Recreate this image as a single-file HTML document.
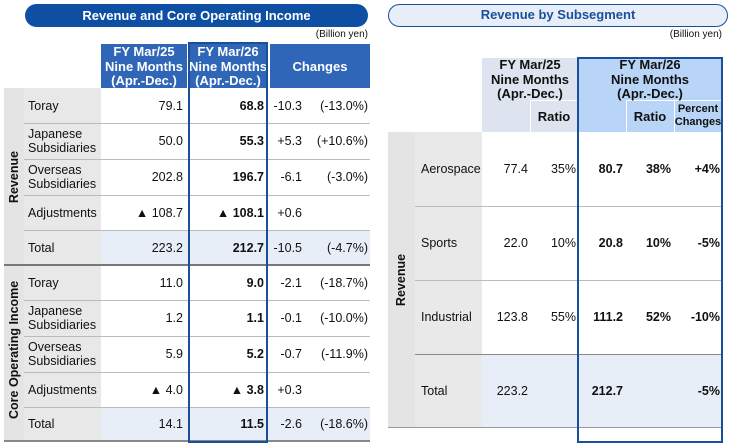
<!DOCTYPE html>
<html><head><meta charset="utf-8">
<style>
*{margin:0;padding:0;box-sizing:border-box}
body{width:730px;height:443px;overflow:hidden;background:#fff;font-family:"Liberation Sans",Arial,sans-serif;color:#111;position:relative}
.a{position:absolute}
.t{position:absolute;font-size:12.5px;line-height:14px;white-space:nowrap}
.h{font-size:13px;line-height:14.5px}
.b{font-weight:bold}
.r{text-align:right}
.c{text-align:center}
</style></head><body>
<!-- LEFT PANEL -->
<div class="a" style="left:25px;top:4px;width:343px;height:23px;background:#0f4fa3;border-radius:12px;color:#fff;font-weight:bold;font-size:13px;line-height:23px;text-align:center">Revenue and Core Operating Income</div>
<div class="t" style="left:300px;top:28px;width:68px;font-size:10px;text-align:right">(Billion yen)</div>
<div class="a" style="left:101px;top:44px;width:86px;height:44px;background:#2f66b8"></div>
<div class="a" style="left:188px;top:42px;width:80px;height:46px;background:#2f66b8"></div>
<div class="a" style="left:270px;top:44px;width:100px;height:44px;background:#2f66b8"></div>
<div class="t h b c" style="left:99px;top:45px;width:90px;color:#fff">FY Mar/25<br>Nine Months<br>(Apr.-Dec.)</div>
<div class="t h b c" style="left:186px;top:45px;width:84px;color:#fff">FY Mar/26<br>Nine Months<br>(Apr.-Dec.)</div>
<div class="t h b c" style="left:270px;top:60px;width:100px;color:#fff">Changes</div>
<div class="a" style="left:4px;top:88px;width:20px;height:354px;background:#e4e4e4"></div>
<div class="a" style="left:24px;top:88px;width:77px;height:354px;background:#e8e8e8"></div>
<div class="a" style="left:101px;top:230px;width:269px;height:35px;background:#e8eef7"></div>
<div class="a" style="left:101px;top:407px;width:269px;height:35px;background:#e8eef7"></div>
<div class="t b" style="left:-31px;top:170px;width:90px;text-align:center;transform:rotate(-90deg)">Revenue</div>
<div class="t b" style="left:-51px;top:347px;width:130px;text-align:center;transform:rotate(-90deg)">Core Operating Income</div>
<div id="left"></div>
<div class="a" style="left:4px;top:264px;width:366px;height:2px;background:#777"></div>
<div class="a" style="left:4px;top:440px;width:366px;height:2px;background:#888"></div>
<div class="a" style="left:188px;top:42px;width:80px;height:401px;border:2px solid #1a4f9c"></div>

<!-- RIGHT PANEL -->
<div class="a" style="left:388px;top:4px;width:340px;height:23px;background:#e8eef8;border:1.5px solid #1a4f9c;border-radius:12px;color:#1a4f9c;font-weight:bold;font-size:13px;line-height:20px;text-align:center">Revenue by Subsegment</div>
<div class="t" style="left:654px;top:28px;width:68px;font-size:10px;text-align:right">(Billion yen)</div>
<div class="a" style="left:482px;top:58px;width:96px;height:74px;background:#dde4ef"></div>
<div class="a" style="left:578px;top:57px;width:144px;height:75px;background:#b8d4f6"></div>
<div class="a" style="left:530px;top:100px;width:1px;height:32px;background:#fff"></div>
<div class="a" style="left:530px;top:100px;width:48px;height:1px;background:#fff"></div>
<div class="a" style="left:626px;top:100px;width:96px;height:1px;background:#fff"></div>
<div class="a" style="left:626px;top:100px;width:1px;height:32px;background:#fff"></div>
<div class="a" style="left:674px;top:100px;width:1px;height:32px;background:#fff"></div>
<div class="t h b c" style="left:482px;top:58px;width:96px">FY Mar/25<br>Nine Months<br>(Apr.-Dec.)</div>
<div class="t h b c" style="left:578px;top:58px;width:144px">FY Mar/26<br>Nine Months<br>(Apr.-Dec.)</div>
<div class="t h b c" style="left:530px;top:110px;width:48px">Ratio</div>
<div class="t h b c" style="left:626px;top:110px;width:48px">Ratio</div>
<div class="t b c" style="left:673px;top:103px;width:50px;font-size:11px;line-height:13px">Percent<br>Changes</div>
<div class="a" style="left:388px;top:132px;width:27px;height:296px;background:#e4e4e4"></div>
<div class="a" style="left:415px;top:132px;width:67px;height:296px;background:#e9e9e9"></div>
<div class="a" style="left:482px;top:354px;width:240px;height:74px;background:#e8eef7"></div>
<div class="t b" style="left:356px;top:273px;width:90px;text-align:center;transform:rotate(-90deg)">Revenue</div>
<div id="right"></div>
<div class="a" style="left:388px;top:427px;width:334px;height:1px;background:#999"></div>
<div class="a" style="left:577px;top:57px;width:146px;height:386px;border:2px solid #1a4f9c"></div>

<script>
const leftLabels=["Toray","Japanese<br>Subsidiaries","Overseas<br>Subsidiaries","Adjustments","Total","Toray","Japanese<br>Subsidiaries","Overseas<br>Subsidiaries","Adjustments","Total"];
const leftFy25=["79.1","50.0","202.8","▲ 108.7","223.2","11.0","1.2","5.9","▲ 4.0","14.1"];
const leftFy26=["68.8","55.3","196.7","▲ 108.1","212.7","9.0","1.1","5.2","▲ 3.8","11.5"];
const leftChg=["-10.3","+5.3","-6.1","+0.6","-10.5","-2.1","-0.1","-0.7","+0.3","-2.6"];
const leftPct=["(-13.0%)","(+10.6%)","(-3.0%)","","(-4.7%)","(-18.7%)","(-10.0%)","(-11.9%)","","(-18.6%)"];
const leftTops=[88,123,159,195,230,265,300,336,372,407,441];

const rightLabels=["Aerospace","Sports","Industrial","Total"];
const rightFy25=["77.4","22.0","123.8","223.2"];
const rightR25=["35%","10%","55%",""];
const rightFy26=["80.7","20.8","111.2","212.7"];
const rightR26=["38%","10%","52%",""];
const rightPct=["+4%","-5%","-10%","-5%"];

function txt(parent,html,l,t,w,cls){
  const d=document.createElement('div');
  d.className='t '+cls;
  d.style.left=l+'px';d.style.top=t+'px';d.style.width=w+'px';
  d.innerHTML=html;parent.appendChild(d);return d;
}
const L=document.getElementById('left');
for(let i=0;i<leftLabels.length;i++){
  const y0=leftTops[i],y1=leftTops[i+1];
  const two=leftLabels[i].includes('<br>');
  const ty=two?(y0+y1)/2-14:(y0+y1)/2-7;
  const lab=txt(L,leftLabels[i],28,ty,72,'');
  
  
  const my=(y0+y1)/2-7;
  const a=txt(L,leftFy25[i],101,my,82,'r');
  
  
  const b=txt(L,leftFy26[i],190,my,74,'r b');
  
  
  const c=txt(L,leftChg[i],270,my,32,'r');
  
  
  const p=txt(L,leftPct[i],300,my,68,'r');
  
  
  if(i<leftLabels.length-1 && i!==4){
    const ln=document.createElement('div');ln.className='a';
    ln.style.cssText='left:24px;top:'+y1+'px;width:346px;height:1px;background:#bbb';
    L.appendChild(ln);
  }
}
const R=document.getElementById('right');
for(let i=0;i<rightLabels.length;i++){
  const y0=132+i*74;const my=y0+37-7;
  const lab=txt(R,rightLabels[i],421,my,60,'');
  
  
  const a=txt(R,rightFy25[i],478,my,50,'r');
  
  
  const b=txt(R,rightR25[i],530,my,46,'r');
  
  
  const c=txt(R,rightFy26[i],578,my,45,'r b');
  
  
  const d=txt(R,rightR26[i],626,my,45,'r b');
  
  
  const e=txt(R,rightPct[i],674,my,46,'r b');
  
  
  if(i<rightLabels.length-1){
    const ln=document.createElement('div');ln.className='a';
    ln.style.cssText='left:415px;top:'+(y0+74)+'px;width:307px;height:1px;background:'+(i==2?'#888':'#bbb');
    R.appendChild(ln);
  }
}
</script>
</body></html>
